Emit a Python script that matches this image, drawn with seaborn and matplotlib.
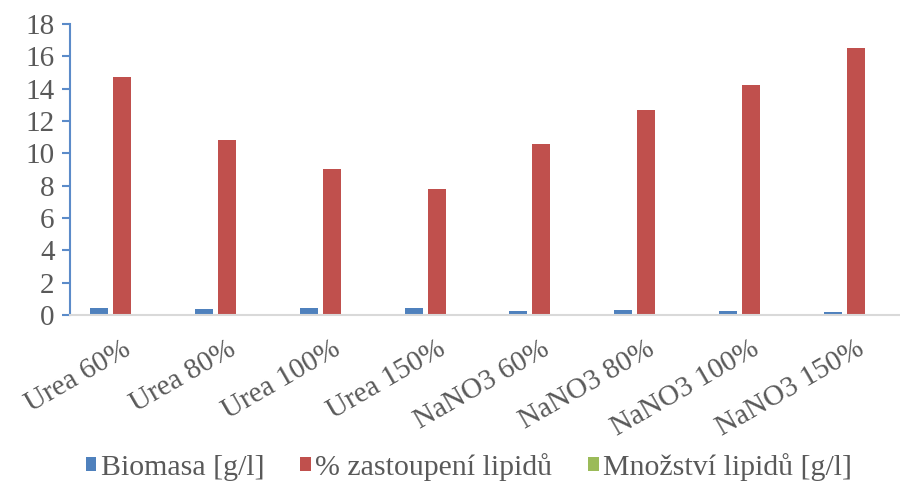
import matplotlib
matplotlib.use("Agg")
import matplotlib.pyplot as plt
import seaborn as sns
import pandas as pd

categories = ["Urea 60%", "Urea 80%", "Urea 100%", "Urea 150%",
              "NaNO3 60%", "NaNO3 80%", "NaNO3 100%", "NaNO3 150%"]
series_names = ["Biomasa [g/l]", "% zastoupení lipidů", "Množství lipidů [g/l]"]
biomasa = [0.43, 0.40, 0.43, 0.46, 0.25, 0.34, 0.25, 0.18]
zastoupeni = [14.72, 10.85, 9.03, 7.79, 10.58, 12.68, 14.25, 16.49]
mnozstvi = [0.06, 0.04, 0.04, 0.04, 0.03, 0.04, 0.04, 0.03]
y_ticks = [0, 2, 4, 6, 8, 10, 12, 14, 16, 18]

colors = ["#4F81BD", "#C0504D", "#9BBB59"]
text_color = "#595959"

df = pd.DataFrame({
    "kategorie": categories * 3,
    "serie": [series_names[0]] * 8 + [series_names[1]] * 8 + [series_names[2]] * 8,
    "hodnota": biomasa + zastoupeni + mnozstvi,
})

sns.set_theme(style="white")
plt.rcParams["font.family"] = ["Liberation Serif", "DejaVu Serif"]

fig = plt.figure(figsize=(9, 4.86), dpi=100)
ax = fig.add_axes([70 / 900, 1 - 315 / 486, (908 - 70) / 900, (315 - 24) / 486])

sns.barplot(data=df, x="kategorie", y="hodnota", hue="serie",
            hue_order=series_names, order=categories, palette=colors,
            width=0.66, gap=0.22, saturation=1, errorbar=None, ax=ax,
            edgecolor="none")

ax.set_xlim(-0.5, len(categories) - 0.5)
ax.set_ylim(0, 18)
ax.set_yticks(y_ticks)
ax.set_xlabel("")
ax.set_ylabel("")

for s in ["top", "right"]:
    ax.spines[s].set_visible(False)
ax.spines["left"].set_color("#5B8BC9")
ax.spines["left"].set_linewidth(1.5)
ax.spines["bottom"].set_color("#D9D9D9")
ax.spines["bottom"].set_linewidth(1.5)

ax.tick_params(axis="y", which="both", left=True, length=6, width=1.5,
               color="#5B8BC9", labelsize=21, labelcolor=text_color, pad=5)
ax.tick_params(axis="x", bottom=False, labelsize=21, labelcolor=text_color, pad=9)
for lbl in ax.get_xticklabels():
    lbl.set_rotation(30)
    lbl.set_ha("right")
    lbl.set_rotation_mode("anchor")

leg = ax.legend(loc="center", bbox_to_anchor=((469 - 70) / 838, -(467 - 315) / 291),
                ncol=3, frameon=False, fontsize=21.5, handlelength=0.35,
                handleheight=0.35, handletextpad=0.15, columnspacing=1.2)
for t in leg.get_texts():
    t.set_color(text_color)

fig.savefig("out.png", dpi=100, facecolor="white")
